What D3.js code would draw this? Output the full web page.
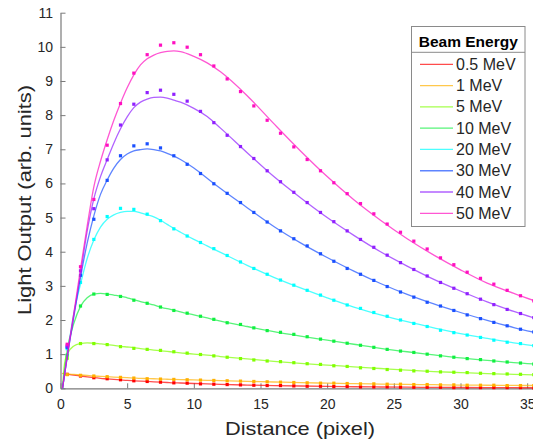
<!DOCTYPE html>
<html>
<head>
<meta charset="utf-8">
<script src="https://cdn.jsdelivr.net/npm/d3@7"></script>
<style>
  html, body { margin: 0; padding: 0; background: #fff; }
  svg { display: block; font-family: "Liberation Sans", Arial, sans-serif; }
</style>
</head>
<body>
<svg id="chart" width="533" height="440"></svg>
<script>
// Measured light output, sampled at pixel centres 0.5 ... 35.5
const distance = d3.range(36).map(i => i + 0.5);

const meas05 = [0.41,0.36,0.31,0.28,0.25,0.22,0.20,0.18,0.16,0.15,0.13,0.12,0.11,0.10,0.09,0.08,0.08,0.07,0.06,0.06,0.05,0.05,0.04,0.04,0.04,0.03,0.03,0.03,0.03,0.02,0.02,0.02,0.02,0.02,0.02,0.01];
const meas1  = [0.40,0.38,0.36,0.34,0.32,0.30,0.28,0.27,0.26,0.25,0.24,0.23,0.22,0.21,0.20,0.19,0.18,0.17,0.16,0.15,0.15,0.14,0.13,0.13,0.12,0.12,0.11,0.11,0.10,0.10,0.09,0.09,0.09,0.08,0.08,0.08];
const meas5  = [0.88,1.31,1.31,1.28,1.22,1.17,1.14,1.11,1.07,1.03,0.99,0.95,0.91,0.87,0.83,0.80,0.78,0.75,0.72,0.70,0.66,0.64,0.60,0.58,0.55,0.53,0.51,0.50,0.48,0.47,0.46,0.44,0.43,0.42,0.41,0.40];
const meas10 = [0.97,2.41,2.76,2.75,2.69,2.58,2.49,2.38,2.28,2.20,2.11,2.02,1.92,1.87,1.77,1.69,1.64,1.58,1.51,1.44,1.38,1.32,1.26,1.20,1.14,1.09,1.05,1.00,0.95,0.91,0.87,0.84,0.80,0.77,0.74,0.71];
const meas20 = [1.16,3.10,4.36,5.03,5.27,5.24,5.10,4.91,4.67,4.46,4.27,4.09,3.89,3.70,3.51,3.34,3.17,3.02,2.87,2.73,2.58,2.44,2.34,2.22,2.11,2.00,1.90,1.81,1.70,1.63,1.56,1.49,1.41,1.35,1.31,1.25];
const meas30 = [1.20,3.31,4.95,6.09,6.81,7.10,7.16,7.04,6.81,6.56,6.29,5.99,5.71,5.44,5.15,4.87,4.61,4.38,4.17,3.94,3.72,3.51,3.34,3.16,2.98,2.82,2.67,2.52,2.41,2.28,2.15,2.04,1.93,1.83,1.73,1.65];
const meas40 = [1.24,3.44,5.26,6.69,7.71,8.32,8.66,8.73,8.61,8.41,8.11,7.78,7.41,7.08,6.73,6.37,6.05,5.74,5.44,5.15,4.88,4.61,4.36,4.13,3.90,3.68,3.48,3.29,3.10,2.93,2.77,2.61,2.45,2.31,2.19,2.07];
const meas50 = [1.29,3.56,5.53,7.12,8.34,9.23,9.77,10.05,10.12,9.99,9.77,9.44,9.06,8.69,8.27,7.85,7.47,7.07,6.70,6.37,6.02,5.70,5.41,5.11,4.81,4.57,4.31,4.08,3.82,3.62,3.40,3.22,3.05,2.87,2.71,2.56];

// Fitted model curves, sampled along the distance axis
const fitDistance = [0.15,0.3,0.5,1,1.5,2,2.5,3,3.5,4,4.5,5,5.5,6,6.5,7,7.5,8,8.5,9,10,11,12,14,16,18,20,22,24,26,28,30,32,34,36];

const fit05 = [0.44,0.43,0.415,0.385,0.36,0.335,0.31,0.29,0.275,0.26,0.245,0.23,0.22,0.21,0.20,0.19,0.18,0.17,0.16,0.155,0.14,0.13,0.115,0.095,0.08,0.067,0.055,0.045,0.038,0.032,0.027,0.023,0.02,0.017,0.015];
const fit1  = [0.43,0.425,0.42,0.405,0.39,0.375,0.36,0.35,0.34,0.33,0.32,0.31,0.30,0.29,0.285,0.28,0.27,0.265,0.26,0.255,0.245,0.235,0.225,0.205,0.185,0.165,0.15,0.135,0.125,0.115,0.105,0.095,0.09,0.085,0.08];
const fit5  = [0,0.72,1.0,1.24,1.31,1.33,1.32,1.30,1.28,1.26,1.23,1.21,1.19,1.16,1.14,1.12,1.10,1.08,1.06,1.04,1.00,0.97,0.93,0.86,0.79,0.73,0.68,0.63,0.58,0.53,0.49,0.46,0.43,0.41,0.39];
const fit10 = [0,0.5,1.1,1.9,2.4,2.65,2.76,2.78,2.76,2.73,2.70,2.65,2.60,2.54,2.49,2.44,2.38,2.33,2.29,2.24,2.15,2.06,1.97,1.81,1.66,1.53,1.41,1.29,1.17,1.07,0.98,0.89,0.82,0.75,0.70];
const fit20 = [0,0.4,0.95,2.2,3.05,3.8,4.34,4.72,4.95,5.08,5.15,5.18,5.18,5.14,5.08,5.02,4.92,4.80,4.68,4.57,4.36,4.17,3.98,3.60,3.25,2.94,2.65,2.38,2.15,1.95,1.77,1.60,1.46,1.33,1.22];
const fit30 = [0,0.38,0.9,2.1,3.25,4.25,5.05,5.68,6.1,6.45,6.7,6.86,6.95,6.99,7.01,6.99,6.95,6.88,6.80,6.70,6.45,6.15,5.85,5.29,4.74,4.26,3.83,3.43,3.07,2.75,2.47,2.22,1.99,1.78,1.60];
const fit40 = [0,0.4,0.92,2.15,3.35,4.6,5.55,6.2,6.7,7.18,7.6,7.95,8.22,8.38,8.47,8.52,8.53,8.50,8.44,8.38,8.20,7.96,7.62,6.90,6.20,5.58,5.00,4.48,4.00,3.58,3.19,2.85,2.53,2.25,2.00];
const fit50 = [0,0.4,0.95,2.2,3.5,4.75,5.9,6.65,7.28,7.85,8.35,8.8,9.18,9.47,9.65,9.76,9.83,9.87,9.88,9.86,9.72,9.53,9.27,8.57,7.75,6.95,6.20,5.52,4.92,4.38,3.90,3.47,3.08,2.78,2.50];

const energyLabels = ["0.5 MeV","1 MeV","5 MeV","10 MeV","20 MeV","30 MeV","40 MeV","50 MeV"];
const measured = [meas05, meas1, meas5, meas10, meas20, meas30, meas40, meas50];
const fitted   = [fit05, fit1, fit5, fit10, fit20, fit30, fit40, fit50];

const xTicks = [0,5,10,15,20,25,30,35];
const yTicks = [0,1,2,3,4,5,6,7,8,9,10,11];

// Colours for each beam energy
const colors = ["#ff0000","#ffb000","#80ff00","#10f040","#00ffff","#1a50ff","#9020ff","#ff10c0"];

const svg = d3.select("#chart");
const x = d3.scaleLinear().domain([0, 36]).range([60.5, 540.5]);
const y = d3.scaleLinear().domain([0, 11]).range([388.3, 12.7]);
const axisColor = "#7a7a7a";
const textColor = "#262626";
const font = "'Liberation Sans', Arial, sans-serif";

// Axes (ticks point inward)
const xAxis = svg.append("g")
  .attr("transform", `translate(0,${y(0)})`)
  .call(d3.axisBottom(x).tickValues(xTicks).tickSizeInner(-5).tickSizeOuter(0).tickPadding(11));
const yAxis = svg.append("g")
  .attr("transform", `translate(${x(0)},0)`)
  .call(d3.axisLeft(y).tickValues(yTicks).tickSizeInner(-5).tickSizeOuter(0).tickPadding(7.5));
[xAxis, yAxis].forEach(g => {
  g.select(".domain").attr("stroke", axisColor).attr("stroke-width", 1.2);
  g.selectAll(".tick line").attr("stroke", axisColor).attr("stroke-width", 1);
  g.selectAll(".tick text").attr("fill", textColor).style("font-size", "14px")
    .style("font-family", font);
});

// Data layer
const plot = svg.append("g");
const line = d3.line()
  .x(d => x(d[0]))
  .y(d => y(d[1]))
  .curve(d3.curveMonotoneX);

measured.forEach((vals, i) => {
  const fitPts = fitDistance.map((dx, j) => [dx, fitted[i][j]]);
  plot.append("path")
    .datum(fitPts)
    .attr("d", line)
    .attr("fill", "none")
    .attr("stroke", colors[i])
    .attr("stroke-opacity", 0.7)
    .attr("stroke-width", 1.3);
  plot.append("g").selectAll("rect")
    .data(distance.map((dx, j) => [dx, vals[j]]))
    .join("rect")
    .attr("x", d => x(d[0]) - 1.6)
    .attr("y", d => y(d[1]) - 1.6)
    .attr("width", 3.2)
    .attr("height", 3.2)
    .attr("fill", colors[i]);
});

// Axis titles
svg.append("text")
  .attr("x", 300).attr("y", 434.5)
  .attr("text-anchor", "middle")
  .attr("fill", textColor)
  .attr("textLength", 150)
  .attr("lengthAdjust", "spacingAndGlyphs")
  .style("font-size", "18.5px")
  .text("Distance (pixel)");
svg.append("text")
  .attr("transform", "translate(30.5,200) rotate(-90)")
  .attr("text-anchor", "middle")
  .attr("fill", textColor)
  .attr("textLength", 230)
  .attr("lengthAdjust", "spacingAndGlyphs")
  .style("font-size", "18.5px")
  .text("Light Output (arb. units)");

// Legend
const lg = svg.append("g");
const lx0 = 411.5, lx1 = 525, ly0 = 26.5, ly1 = 226.5, lsep = 52.3;
lg.append("rect")
  .attr("x", lx0).attr("y", ly0).attr("width", lx1 - lx0).attr("height", ly1 - ly0)
  .attr("fill", "#fff").attr("stroke", "#8a8a8a").attr("stroke-width", 1);
lg.append("line")
  .attr("x1", lx0).attr("x2", lx1).attr("y1", lsep).attr("y2", lsep)
  .attr("stroke", "#8a8a8a").attr("stroke-width", 1);
lg.append("text")
  .attr("x", (lx0 + lx1) / 2).attr("y", 46.5)
  .attr("text-anchor", "middle")
  .attr("fill", "#000")
  .style("font-size", "15.5px").style("font-weight", "bold")
  .text("Beam Energy");
const entryY = d3.scaleLinear().domain([0, 7]).range([64.3, 213.3]);
energyLabels.forEach((lab, i) => {
  const cy = entryY(i);
  lg.append("line")
    .attr("x1", 420).attr("x2", 453).attr("y1", cy).attr("y2", cy)
    .attr("stroke", colors[i]).attr("stroke-opacity", 0.7).attr("stroke-width", 1.3);
  lg.append("text")
    .attr("x", 456).attr("y", cy + 5.6)
    .attr("fill", textColor)
    .style("font-size", "16px")
    .text(lab);
});
</script>
</body>
</html>
